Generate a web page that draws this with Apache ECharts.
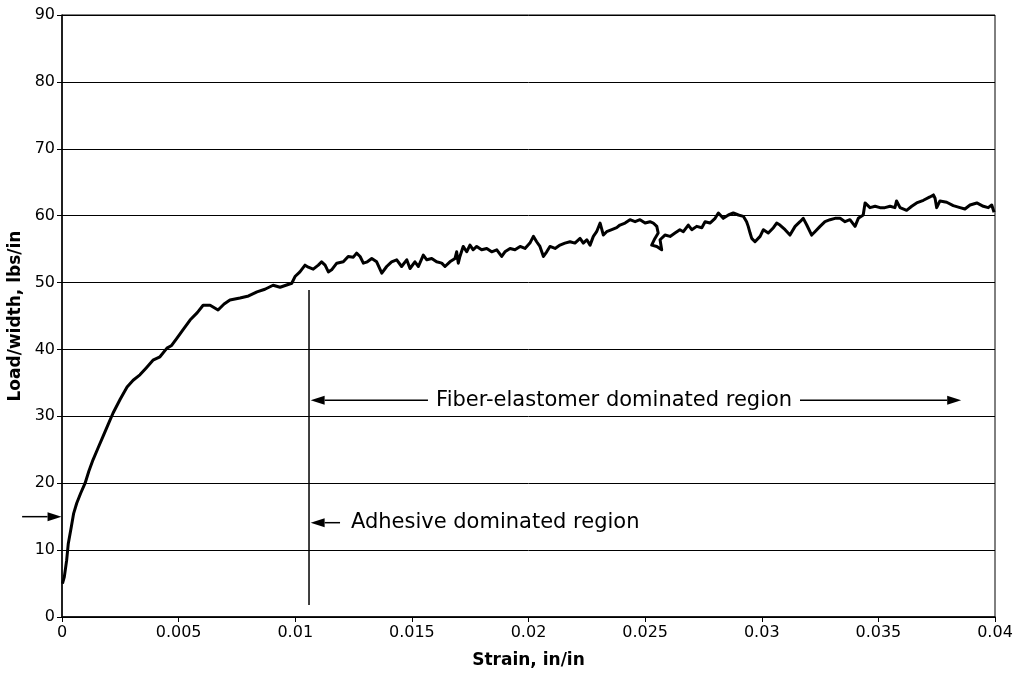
<!DOCTYPE html>
<html>
<head>
<meta charset="utf-8">
<script src="https://cdn.jsdelivr.net/npm/echarts@6/dist/echarts.min.js"></script>
<style>
  html, body { margin: 0; padding: 0; background: #fff; }
  #chart { width: 1017px; height: 676px; }
</style>
</head>
<body>
<div id="chart"></div>
<script>
// strain (in/in) vs load/width (lbs/in)
const curveStrain = [
  0.00002, 0.00010, 0.00020, 0.00027, 0.00040, 0.00050, 0.00063, 0.00080, 0.00099, 0.00115,
  0.00133, 0.00155, 0.00176, 0.00198, 0.00219, 0.00250, 0.00279, 0.00305, 0.00334, 0.00360,
  0.00390, 0.00420, 0.00450, 0.00470, 0.00493, 0.00520, 0.00549, 0.00580, 0.00605, 0.00635,
  0.00669, 0.00695, 0.00720, 0.00763, 0.00800, 0.00836, 0.00870, 0.00905, 0.00935, 0.00985,
  0.00999, 0.01020, 0.01042, 0.01056, 0.01077, 0.01099, 0.01113, 0.01128, 0.01142, 0.01156,
  0.01178, 0.01206, 0.01227, 0.01249, 0.01263, 0.01278, 0.01292, 0.01309, 0.01328, 0.01349,
  0.01371, 0.01392, 0.01413, 0.01435, 0.01456, 0.01478, 0.01492, 0.01513, 0.01528, 0.01549,
  0.01564, 0.01585, 0.01606, 0.01628, 0.01642, 0.01663, 0.01685, 0.01692, 0.01699, 0.01706,
  0.01720, 0.01735, 0.01749, 0.01763, 0.01778, 0.01799, 0.01821, 0.01842, 0.01864, 0.01885,
  0.01899, 0.01921, 0.01942, 0.01964, 0.01985, 0.02006, 0.02021, 0.02035, 0.02049, 0.02064,
  0.02078, 0.02092, 0.02114, 0.02135, 0.02156, 0.02178, 0.02199, 0.02221, 0.02235, 0.02250,
  0.02264, 0.02278, 0.02292, 0.02307, 0.02321, 0.02335, 0.02357, 0.02378, 0.02392, 0.02414,
  0.02435, 0.02457, 0.02478, 0.02500, 0.02521, 0.02535, 0.02550, 0.02556, 0.02542, 0.02528,
  0.02550, 0.02571, 0.02564, 0.02585, 0.02607, 0.02628, 0.02649, 0.02664, 0.02685, 0.02700,
  0.02721, 0.02743, 0.02757, 0.02778, 0.02800, 0.02814, 0.02835, 0.02857, 0.02878, 0.02900,
  0.02921, 0.02935, 0.02942, 0.02950, 0.02957, 0.02971, 0.02993, 0.03007, 0.03028, 0.03050,
  0.03064, 0.03078, 0.03100, 0.03121, 0.03143, 0.03164, 0.03178, 0.03193, 0.03214, 0.03228,
  0.03250, 0.03271, 0.03293, 0.03314, 0.03336, 0.03357, 0.03378, 0.03400, 0.03414, 0.03435,
  0.03443, 0.03464, 0.03486, 0.03507, 0.03528, 0.03550, 0.03571, 0.03578, 0.03593, 0.03621,
  0.03643, 0.03664, 0.03693, 0.03721, 0.03736, 0.03743, 0.03750, 0.03764, 0.03793, 0.03821,
  0.03850, 0.03871, 0.03893, 0.03922, 0.03950, 0.03971, 0.03986, 0.03993, 0.03996
];
const curveLoad = [
  5.0, 6.0, 8.5, 11.0, 13.5, 15.5, 17.0, 18.5, 20.0, 21.8,
  23.5, 25.3, 27.0, 28.8, 30.5, 32.6, 34.4, 35.4, 36.2, 37.2,
  38.4, 38.9, 40.2, 40.6, 41.7, 43.0, 44.4, 45.5, 46.6, 46.6,
  45.9, 46.8, 47.4, 47.7, 48.0, 48.6, 49.0, 49.6, 49.3, 49.9,
  50.9, 51.6, 52.6, 52.3, 52.0, 52.6, 53.1, 52.6, 51.6, 51.9,
  52.9, 53.1, 53.9, 53.8, 54.4, 53.9, 52.9, 53.1, 53.6, 53.1,
  51.4, 52.4, 53.1, 53.4, 52.4, 53.4, 52.1, 53.1, 52.4, 54.1,
  53.4, 53.6, 53.1, 52.9, 52.4, 53.1, 53.6, 54.6, 52.9, 53.9,
  55.4, 54.6, 55.6, 54.9, 55.4, 54.9, 55.1, 54.6, 54.9, 53.9,
  54.6, 55.1, 54.9, 55.4, 55.1, 55.9, 56.9, 56.1, 55.4, 53.9,
  54.6, 55.4, 55.1, 55.6, 55.9, 56.1, 55.9, 56.6, 55.9, 56.4,
  55.6, 56.9, 57.6, 58.9, 57.1, 57.6, 57.9, 58.2, 58.6, 58.9,
  59.4, 59.1, 59.4, 58.9, 59.1, 58.9, 58.4, 57.4, 56.6, 55.6,
  55.4, 54.9, 56.4, 57.1, 56.9, 57.4, 57.9, 57.6, 58.6, 57.9,
  58.4, 58.2, 59.1, 58.9, 59.6, 60.4, 59.6, 60.1, 60.4, 60.1,
  59.9, 59.1, 58.4, 57.4, 56.6, 56.1, 56.9, 57.9, 57.4, 58.2,
  58.9, 58.6, 57.9, 57.1, 58.4, 59.1, 59.6, 58.6, 57.1, 57.6,
  58.4, 59.1, 59.4, 59.6, 59.6, 59.1, 59.4, 58.4, 59.6, 60.1,
  61.9, 61.2, 61.4, 61.2, 61.2, 61.4, 61.2, 62.2, 61.2, 60.8,
  61.4, 61.9, 62.3, 62.8, 63.1, 62.6, 61.2, 62.2, 62.0, 61.5,
  61.2, 61.0, 61.6, 61.9, 61.4, 61.2, 61.6, 61.4, 60.5
];

// annotations, in data units: [x1, y1, x2, y2]
const dividerLine = [0.01059, 48.9, 0.01059, 1.8];
const arrowLines = [
  [0.01569, 32.4, 0.01066, 32.4],   // fiber-elastomer, left
  [0.03164, 32.4, 0.03855, 32.4],   // fiber-elastomer, right
  [0.01192, 14.1, 0.01066, 14.1],   // adhesive
  [-0.00171, 15.0, -0.00002, 15.0]  // onto the load axis
];
const fiberLabel = { text: 'Fiber-elastomer dominated region', at: [0.02367, 32.4] };
const adhesiveLabel = { text: 'Adhesive dominated region', at: [0.01213, 14.1] };

const xTicks = { min: 0, max: 0.04, step: 0.005 };
const yTicks = { min: 0, max: 90, step: 10 };

const chart = echarts.init(document.getElementById('chart'));
const FONT = '"DejaVu Sans", Verdana, sans-serif';

// line with a filled triangular head at its end
const renderArrow = (params, api) => {
  const a = api.coord([api.value(0), api.value(1)]);
  const b = api.coord([api.value(2), api.value(3)]);
  const len = Math.hypot(b[0] - a[0], b[1] - a[1]) || 1;
  const ux = (b[0] - a[0]) / len, uy = (b[1] - a[1]) / len;
  const headL = 14, headW = 4.5;
  const bx = b[0] - ux * headL, by = b[1] - uy * headL;
  return {
    type: 'group',
    children: [
      { type: 'line', shape: { x1: a[0], y1: a[1], x2: bx, y2: by },
        style: { stroke: '#000', lineWidth: 1.5 } },
      { type: 'polygon',
        shape: { points: [[b[0], b[1]], [bx - uy * headW, by + ux * headW], [bx + uy * headW, by - ux * headW]] },
        style: { fill: '#000' } }
    ]
  };
};

const renderPlain = (params, api) => {
  const a = api.coord([api.value(0), api.value(1)]);
  const b = api.coord([api.value(2), api.value(3)]);
  return { type: 'line', shape: { x1: a[0], y1: a[1], x2: b[0], y2: b[1] },
           style: { stroke: '#000', lineWidth: 1.5 } };
};

chart.setOption({
  backgroundColor: '#fff',
  animation: false,
  grid: {
    left: 62, right: 22, top: 15, bottom: 59,
    outerBoundsMode: 'none',
    containLabel: false,
    show: true, borderColor: '#000', borderWidth: 1
  },
  xAxis: {
    type: 'value',
    min: xTicks.min, max: xTicks.max, interval: xTicks.step,
    name: 'Strain, in/in',
    nameLocation: 'middle',
    nameGap: 35,
    nameTextStyle: { fontFamily: FONT, fontWeight: 'bold', fontSize: 17, color: '#000' },
    axisLine: { lineStyle: { color: '#000', width: 1.5 } },
    axisTick: { show: true, length: 5, lineStyle: { color: '#000' } },
    axisLabel: {
      color: '#000', fontFamily: FONT, fontSize: 16, margin: 8,
      formatter: (v) => String(parseFloat(v.toFixed(3)))
    },
    splitLine: { show: false }
  },
  yAxis: {
    type: 'value',
    min: yTicks.min, max: yTicks.max, interval: yTicks.step,
    name: 'Load/width, lbs/in',
    nameLocation: 'middle',
    nameGap: 35,
    nameRotate: 90,
    nameTextStyle: { fontFamily: FONT, fontWeight: 'bold', fontSize: 17, color: '#000' },
    axisLine: { show: true, lineStyle: { color: '#000', width: 1.5 } },
    axisTick: { show: true, length: 5, lineStyle: { color: '#000' } },
    axisLabel: { color: '#000', fontFamily: FONT, fontSize: 16, margin: 7 },
    splitLine: { show: true, lineStyle: { color: '#000', width: 1 } }
  },
  series: [
    {
      name: 'curve',
      type: 'line',
      data: curveStrain.map((x, i) => [x, curveLoad[i]]),
      showSymbol: false,
      lineStyle: { color: '#000', width: 3, join: 'round' },
      z: 5
    },
    {
      name: 'divider',
      type: 'custom',
      clip: false,
      silent: true,
      renderItem: renderPlain,
      encode: { x: [0, 2], y: [1, 3] },
      data: [dividerLine],
      z: 4
    },
    {
      name: 'arrows',
      type: 'custom',
      clip: false,
      silent: true,
      renderItem: renderArrow,
      encode: { x: [0, 2], y: [1, 3] },
      data: arrowLines,
      z: 4
    },
    {
      name: 'labels',
      type: 'scatter',
      symbolSize: 0,
      silent: true,
      itemStyle: { opacity: 1 },
      data: [
        { value: fiberLabel.at, name: fiberLabel.text,
          label: { position: 'inside', align: 'center' } },
        { value: adhesiveLabel.at, name: adhesiveLabel.text,
          label: { position: 'right', distance: 0, align: 'left' } }
      ],
      label: {
        show: true,
        formatter: (p) => p.name,
        color: '#000',
        fontFamily: FONT,
        fontSize: 21,
        backgroundColor: '#fff',
        padding: [0, 6]
      },
      z: 6
    }
  ]
});
</script>
</body>
</html>
